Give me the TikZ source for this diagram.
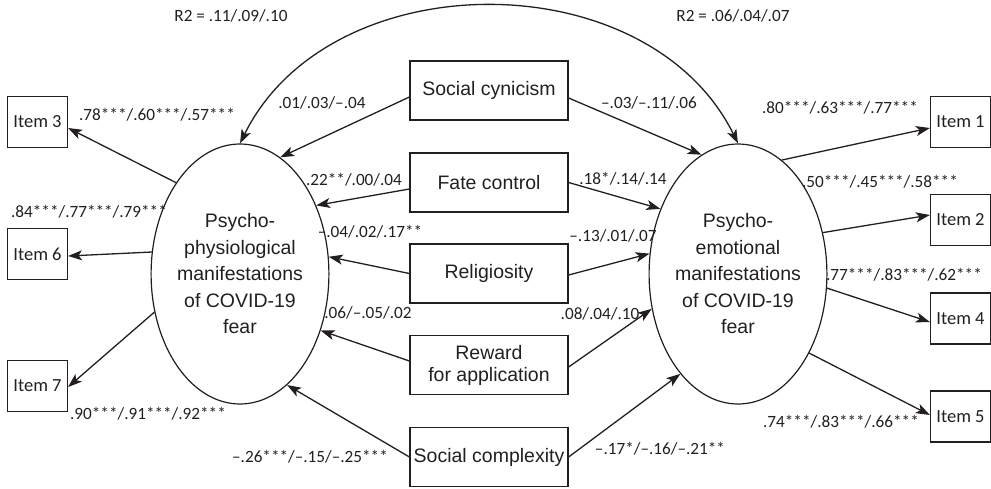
\documentclass[tikz,border=0pt]{standalone}
\usepackage{fontspec}
\setmainfont{Liberation Sans}
\newfontfamily\labfont{Carlito}
\usetikzlibrary{shapes.geometric,arrows.meta,calc}
\definecolor{ink}{HTML}{231F20}
\begin{document}
\begin{tikzpicture}[x=1pt,y=-1pt,
  every node/.style={text=ink},
  latent/.style={draw=ink,line width=1.2pt,ellipse,minimum width=150pt,minimum height=260pt,inner sep=0pt,align=center,font=\fontsize{19.5}{26.5}\selectfont},
  predbox/.style={draw=ink,line width=1.2pt,rectangle,minimum width=158pt,minimum height=59pt,inner sep=0pt,align=center,font=\fontsize{19.5}{22}\selectfont},
  itembox/.style={draw=ink,line width=1.2pt,rectangle,minimum width=60pt,minimum height=51pt,inner sep=0pt,font=\labfont\fontsize{18.5}{20}\selectfont},
  coef/.style={font=\labfont\fontsize{17.2}{19}\selectfont,inner sep=0pt},
  path/.style={draw=ink,line width=1.3pt,-{Stealth[length=14pt,width=10pt,inset=3.5pt]}},
  cov/.style={draw=ink,line width=1.3pt,{Stealth[length=14pt,width=10pt,inset=3.5pt]}-{Stealth[length=14pt,width=10pt,inset=3.5pt]}}
]
\useasboundingbox (0,0) rectangle (991,488);

% latent variables
\node[latent] (L) at (240,274) {Psycho-\\physiological\\manifestations\\of COVID-19\\fear};
\node[latent] (R) at (738,274) {Psycho-\\emotional\\manifestations\\of COVID-19\\fear};

% predictors
\node[predbox] (sc)  at (489,90.5) {Social cynicism};
\node[predbox] (fc)  at (489,182.5) {Fate control};
\node[predbox] (rel) at (489,273.5) {Religiosity};
\node[predbox] (rew) at (489,365) {Reward\\for application};
\node[predbox] (scx) at (489,457) {Social complexity};

% items
\node[itembox] (i3) at (37.5,122) {Item 3};
\node[itembox] (i6) at (37.5,254) {Item 6};
\node[itembox] (i7) at (37.5,386) {Item 7};
\node[itembox] (i1) at (960.5,122) {Item 1};
\node[itembox] (i2) at (960.5,220) {Item 2};
\node[itembox] (i4) at (960.5,318.5) {Item 4};
\node[itembox] (i5) at (960.5,416.5) {Item 5};

% covariance arc
\draw[cov] (L.north) .. controls (330,-39) and (648,-39) .. (R.north);

% predictor paths to left latent
\draw[path] ($(sc.west)+(0,6.5)$) -- (L.71.6);
\draw[path] ($(fc.west)+(0,6.5)$) -- (L.42.4);
\draw[path] (rel.west) -- (L.11.9);
\draw[path] ($(rew.west)+(0,-4)$) -- (L.-35);
\draw[path] (scx.west) -- (L.-67.4);

% predictor paths to right latent
\draw[path] ($(sc.east)+(0,7.5)$) -- (R.107.1);
\draw[path] (fc.east) -- (R.140.8);
\draw[path] ($(rel.east)+(0,1.5)$) -- (R.167.7);
\draw[path] ($(rew.east)+(0,2)$) -- (R.202.4);
\draw[path] (scx.east) -- (R.240.7);

% loadings
\draw[path] (L.125.3) -- ($(i3.east)+(0,6)$);
\draw[path] (L.166.3) -- ($(i6.east)+(0,2)$);
\draw[path] (L.204.3) -- ($(i7.east)+(0,1)$);
\draw[path] (R.69.3) -- ($(i1.west)+(0,6)$);
\draw[path] (R.26.6) -- ($(i2.west)+(0,-5)$);
\draw[path] (R.-9.8) -- ($(i4.west)+(0,3.5)$);
\draw[path] (R.-48.8) -- ($(i5.west)+(0,-1.5)$);

% R2 labels
\node[coef] (r2l) at (231,16) {R2 = .11/.09/.10};
\node[coef] (r2r) at (733,16) {R2 = .06/.04/.07};

% coefficients left
\node[coef] (c1) at (322,103) {.01/.03/–.04};
\node[coef] (c2) at (354,180) {.22**/.00/.04};
\node[coef] (c3) at (370,232) {–.04/.02/.17**};
\node[coef] (c4) at (368,313) {.06/–.05/.02};
\node[coef] (c5) at (310,457) {–.26***/–.15/–.25***};
\node[coef] (c6) at (157,115) {.78***/.60***/.57***};
\node[coef] (c7) at (89,212) {.84***/.77***/.79***};
\node[coef] (c8) at (148,414) {.90***/.91***/.92***};

% coefficients right
\node[coef] (d1) at (649,103) {–.03/–.11/.06};
\node[coef] (d2) at (623,179) {.18*/.14/.14};
\node[coef] (d3) at (613,236) {–.13/.01/.07};
\node[coef] (d4) at (600,314) {.08/.04/.10};
\node[coef] (d5) at (660,449) {–.17*/–.16/–.21**};
\node[coef] (d6) at (840,108) {.80***/.63***/.77***};
\node[coef] (d7) at (880,182) {.50***/.45***/.58***};
\node[coef] (d8) at (904,275) {.77***/.83***/.62***};
\node[coef] (d9) at (841,422) {.74***/.83***/.66***};
\end{tikzpicture}
\end{document}
